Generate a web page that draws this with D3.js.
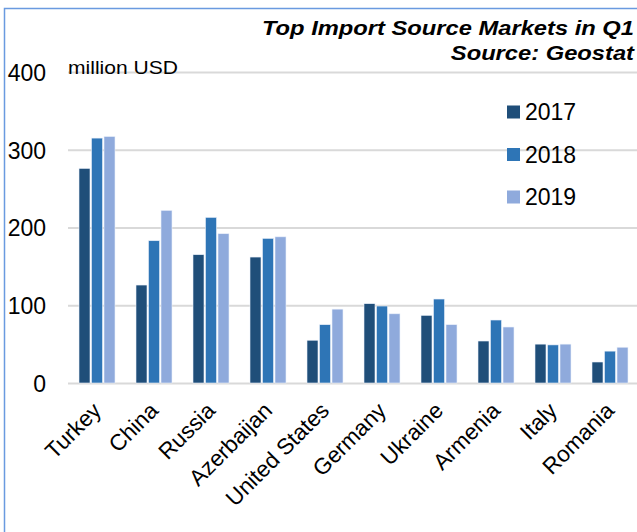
<!DOCTYPE html>
<html>
<head>
<meta charset="utf-8">
<script src="https://cdn.jsdelivr.net/npm/d3@7"></script>
<style>
  html, body { margin: 0; padding: 0; background: #fff; }
  svg { display: block; font-family: "Liberation Sans", Arial, sans-serif; }
</style>
</head>
<body>
<svg id="chart" width="637" height="532"></svg>
<script>
// Import values by source country, million USD, first quarter of each year
const countries = ["Turkey", "China", "Russia", "Azerbaijan", "United States",
                   "Germany", "Ukraine", "Armenia", "Italy", "Romania"];
const years = ["2017", "2018", "2019"];
const v2017 = [276, 126, 165, 162, 55, 102, 87, 54, 50, 27];
const v2018 = [315, 183, 213, 186, 75, 99, 108, 81, 49, 41];
const v2019 = [317, 222, 192, 188, 95, 89, 75, 72, 50, 46];
const yTicks = [0, 100, 200, 300, 400];
const colors = ["#1F4E79", "#2E75B6", "#8FAADC"];

const series = [v2017, v2018, v2019];
const svg = d3.select("#chart");

// outer frame
svg.append("path")
  .attr("d", "M4.5,532 V8.5 H637")
  .attr("fill", "none")
  .attr("stroke", "#6A9AE0")
  .attr("stroke-width", 1.5);

const x0 = d3.scaleBand().domain(countries).range([68, 638]).paddingInner(0).paddingOuter(0);
const x1 = d3.scaleBand().domain(years).range([11, 47]).paddingInner(0.12);
const y = d3.scaleLinear().domain([0, 400]).range([383, 72]);

// gridlines
svg.append("g").selectAll("line").data(yTicks).join("line")
  .attr("x1", 68).attr("x2", 637)
  .attr("y1", d => y(d) + 0.5).attr("y2", d => y(d) + 0.5)
  .attr("stroke", "#D9D9D9").attr("stroke-width", 2);

// y axis labels
const yAxis = d3.axisLeft(y).tickValues(yTicks).tickSize(0).tickPadding(0);
const gy = svg.append("g").attr("transform", "translate(46,0)").call(yAxis);
gy.select(".domain").remove();
gy.selectAll("text")
  .attr("font-family", "Liberation Sans, Arial, sans-serif")
  .attr("font-size", 23).attr("fill", "#000").attr("dy", "0.36em");

// bars
const groups = svg.append("g").selectAll("g").data(countries).join("g")
  .attr("transform", d => `translate(${x0(d)},0)`);
groups.selectAll("rect")
  .data((c, i) => years.map((yr, k) => ({ yr, k, v: series[k][i] })))
  .join("rect")
  .attr("x", d => x1(d.yr))
  .attr("width", x1.bandwidth())
  .attr("y", d => y(d.v))
  .attr("height", d => y(0) - y(d.v))
  .attr("fill", d => colors[d.k])
  .attr("stroke", "#EAF0FA").attr("stroke-width", 0.6);

// x axis labels
const xAxis = d3.axisBottom(x0).tickSize(0).tickPadding(0);
const gx = svg.append("g").attr("transform", "translate(0,383)").call(xAxis);
gx.select(".domain").remove();
gx.selectAll("text")
  .attr("font-family", "Liberation Sans, Arial, sans-serif")
  .attr("font-size", 22.5).attr("fill", "#000")
  .attr("text-anchor", "end")
  .attr("dy", null).attr("y", null)
  .attr("transform", "translate(6,29) rotate(-45)");

// unit label
svg.append("text")
  .attr("transform", "translate(68,74) scale(1.17,1)")
  .attr("font-size", 18).attr("fill", "#000").text("million USD");

// title
const title = svg.append("text")
  .attr("transform", "translate(634,0) scale(1.13,1)")
  .attr("text-anchor", "end").attr("font-weight", "bold").attr("font-style", "italic")
  .attr("font-size", 21).attr("fill", "#000");
title.append("tspan").attr("x", 0).attr("y", 35).text("Top Import Source Markets in Q1");
title.append("tspan").attr("x", 0).attr("y", 60).text("Source: Geostat");

// legend
const legend = svg.append("g").selectAll("g").data(years).join("g")
  .attr("transform", (d, i) => `translate(507,${112 + i * 42.5})`);
legend.append("rect").attr("x", 0).attr("y", -6.5).attr("width", 13).attr("height", 13)
  .attr("fill", (d, i) => colors[i]);
legend.append("text").attr("x", 18).attr("y", 0).attr("dy", "0.36em")
  .attr("font-size", 23).attr("fill", "#000").text(d => d);
</script>
</body>
</html>
